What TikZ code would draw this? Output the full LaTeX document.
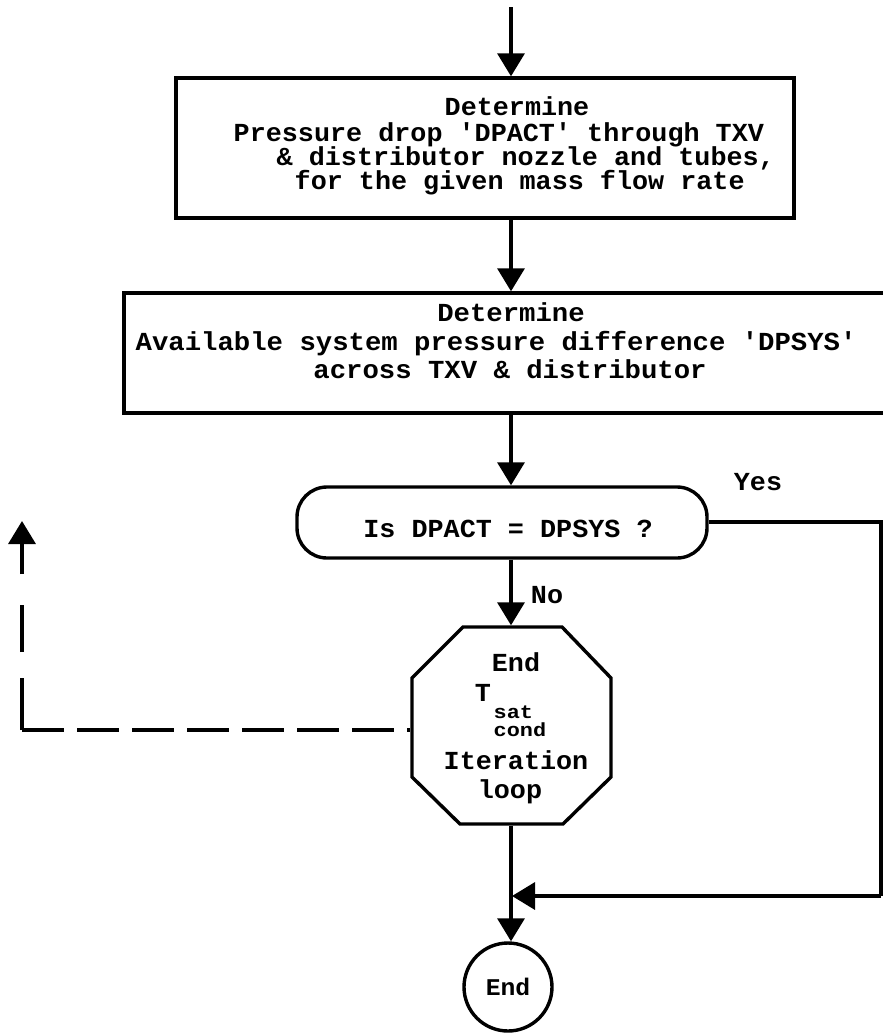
\documentclass[tikz,border=0pt]{standalone}
\usepackage{fontspec}
\newfontfamily\tw[FakeStretch=1.03]{Liberation Mono Bold}
\newfontfamily\twwide[FakeStretch=1.05]{Liberation Mono Bold}
\newfontfamily\twsub[FakeStretch=1.15]{Liberation Mono Bold}
\usetikzlibrary{arrows.meta,shapes.geometric}
\begin{document}
\begin{tikzpicture}[x=1pt,y=-1pt, line width=3.4pt,
  ln/.style={font=\tw\fontsize{26}{26}\selectfont, inner sep=0pt, text height=15pt, text depth=0pt},
  lnw/.style={font=\twwide\fontsize{26}{26}\selectfont, inner sep=0pt, text height=15pt, text depth=0pt},
  sml/.style={font=\twsub\fontsize{19}{19}\selectfont, inner sep=0pt, text height=8pt, text depth=0pt},
  procbox/.style={draw, rectangle, inner sep=0pt},
  arr/.style={-{Triangle[length=23pt,width=27pt]}},
]
\useasboundingbox (0,0) rectangle (883,1034);
\clip (0,0) rectangle (883,1034);

\coordinate (axis) at (511,0);
\coordinate (start) at (511,7);

% box 1
\node[procbox, minimum width=618pt, minimum height=140pt] (box1) at (485,148) {};
\node[ln] (t1a) at (517,108) {Determine};
\node[ln, anchor=west] (t1b) at (232,134) {Pressure drop 'DPACT' through TXV};
\node[ln, anchor=west] (t1c) at (275,158) {\& distributor nozzle and tubes,};
\node[ln, anchor=west] (t1d) at (293,182) {for the given mass flow rate};

% box 2 (right side runs off the page)
\node[procbox, minimum width=790pt, minimum height=120pt] (box2) at (519,353) {};
\node[lnw] (t2a) at (511,314) {Determine};
\node[lnw, anchor=west] (t2b) at (134,343) {Available system pressure difference 'DPSYS'};
\node[lnw] (t2c) at (510,371) {across TXV \& distributor};

% decision
\node[draw, rounded corners=30pt, minimum width=410pt, minimum height=71pt, inner sep=0pt] (dec) at (502,522.5) {};
\node[ln] (tdec) at (508,530) {Is DPACT = DPSYS ?};
\node[ln] (yes) at (758,483) {Yes};
\node[ln] (no) at (547,596) {No};

% octagon
\draw[line join=miter] (463,627) -- (562,627) -- (611,678) -- (611,777) -- (563,824) -- (460,824) -- (412,777) -- (412,678) -- cycle;
\node[minimum width=199pt, minimum height=197pt, inner sep=0pt] (oct) at (511.5,725.5) {};
\node[ln] (oend) at (516,664) {End};
\node[ln] (oT) at (483,694) {T};
\node[sml, anchor=west] (osat) at (492,714) {sat};
\node[sml, anchor=west] (ocond) at (492,732) {cond};
\node[ln] (oiter) at (516,762) {Iteration};
\node[ln] (oloop) at (510,791) {loop};

% end circle
\node[draw, circle, minimum size=88pt, inner sep=0pt, font=\tw\fontsize{24}{24}\selectfont] (end) at (508,987) {End};

% connectors
\draw[arr] (start) -- (box1.north -| axis);
\draw[arr] (box1.south -| axis) -- (box2.north -| axis);
\draw[arr] (box2.south -| axis) -- (dec.north -| axis);
\draw[arr] (dec.south -| axis) -- (oct.north -| axis);
\draw[arr] (oct.south -| axis) -- (end.north -| axis);

\coordinate (rc1) at (881,522);
\coordinate (rc2) at (881,896);
\coordinate (join) at (512,896);
\draw (dec.east |- rc1) -- (rc1) -- (rc2);
\draw[arr] (rc2) -- (join);

\coordinate (dl) at (22,730);
\coordinate (dtip) at (22,521);
\draw[dash pattern=on 42pt off 13pt] (dl) -- (oct.west |- dl);
\draw[dash pattern=on 52pt off 26pt on 47pt off 33pt] (dl) -- (22,540);
\draw[arr] (22,574) -- (dtip);
\end{tikzpicture}
\end{document}
